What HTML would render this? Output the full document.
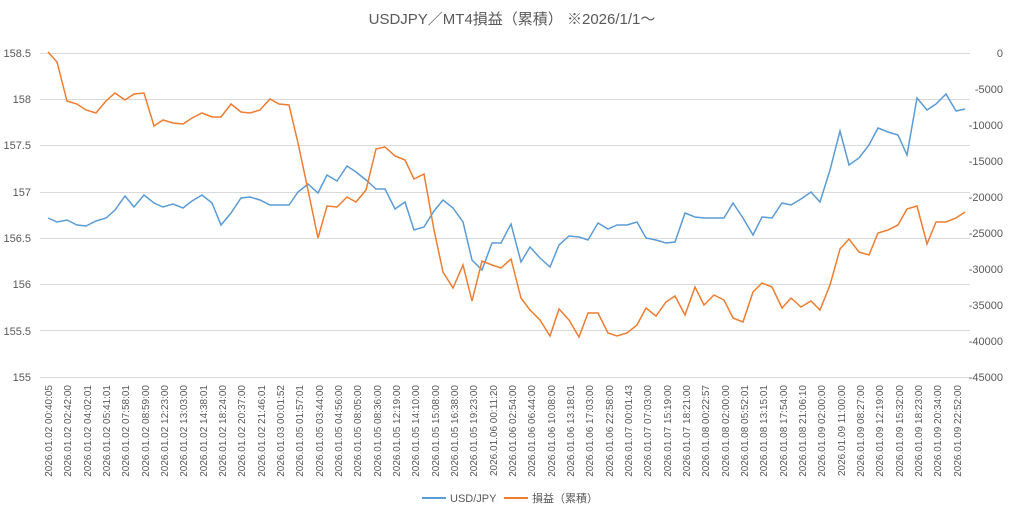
<!DOCTYPE html>
<html><head><meta charset="utf-8"><style>body{margin:0;background:#fff}svg{display:block}</style></head><body>
<svg width="1024" height="518" xmlns="http://www.w3.org/2000/svg" font-family="'Liberation Sans','Noto Sans CJK JP',sans-serif">
<rect width="1024" height="518" fill="#fff"/>
<text x="512" y="24" text-anchor="middle" font-size="15" fill="#595959">USDJPY／MT4損益（累積） ※2026/1/1～</text>
<g stroke="#d9d9d9" stroke-width="1">
<line x1="40" x2="970" y1="53.5" y2="53.5"/><line x1="40" x2="970" y1="99.5" y2="99.5"/><line x1="40" x2="970" y1="145.5" y2="145.5"/><line x1="40" x2="970" y1="192.5" y2="192.5"/><line x1="40" x2="970" y1="238.5" y2="238.5"/><line x1="40" x2="970" y1="284.5" y2="284.5"/><line x1="40" x2="970" y1="330.5" y2="330.5"/><line x1="40" x2="970" y1="377.5" y2="377.5"/>
</g>
<g font-size="11" fill="#595959" text-anchor="end">
<text x="31" y="57">158.5</text><text x="31" y="103">158</text><text x="31" y="149">157.5</text><text x="31" y="196">157</text><text x="31" y="242">156.5</text><text x="31" y="288">156</text><text x="31" y="335">155.5</text><text x="31" y="381">155</text>
</g>
<g font-size="11" fill="#595959" text-anchor="end">
<text x="1003" y="57">0</text><text x="1003" y="93">-5000</text><text x="1003" y="129">-10000</text><text x="1003" y="165">-15000</text><text x="1003" y="201">-20000</text><text x="1003" y="237">-25000</text><text x="1003" y="273">-30000</text><text x="1003" y="309">-35000</text><text x="1003" y="345">-40000</text><text x="1003" y="381">-45000</text>
</g>
<polyline fill="none" stroke="#5b9bd5" stroke-width="1.5" points="48,218 57,222 67,220 77,225 86,226 96,221 106,218 115,210 125,196 134,207 144,195 154,203 163,207 173,204 183,208 192,201 202,195 212,203 221,225 231,213 241,198 250,197 260,200 270,205 279,205 289,205 298,192 308,184 318,193 327,175 337,181 347,166 356,172 366,180 376,189 385,189 395,209 405,202 414,230 424,227 434,211 443,200 453,208 463,222 472,260 482,270 492,243 501,243 511,224 521,262 530,247 540,258 550,267 559,245 569,236 579,237 588,240 598,223 608,229 617,225 627,225 637,222 646,238 656,240 666,243 675,242 685,213 695,217 704,218 714,218 724,218 733,203 743,218 753,235 762,217 772,218 782,203 791,205 801,199 811,192 820,202 830,170 840,131 849,165 859,158 869,145 878,128 888,132 898,135 907,155 917,98 927,110 936,104 946,94 956,111 965,109"/>
<polyline fill="none" stroke="#ed7d31" stroke-width="1.5" points="48,52 57,62 67,101 77,104 86,110 96,113 106,101 115,93 125,100 134,94 144,93 154,126 163,120 173,123 183,124 192,118 202,113 212,117 221,117 231,104 241,112 250,113 260,110 270,99 279,104 289,105 298,143 308,190 318,238 327,206 337,207 347,197 356,202 366,190 376,149 385,147 395,156 405,160 414,179 424,174 434,230 443,272 453,288 463,265 472,301 482,261 492,265 501,268 511,259 521,298 530,310 540,320 550,336 559,309 569,320 579,337 588,313 598,313 608,333 617,336 627,333 637,325 646,308 656,316 666,302 675,296 685,315 695,287 704,305 714,295 724,300 733,318 743,322 753,292 762,283 772,287 782,308 791,298 801,307 811,301 820,310 830,285 840,249 849,239 859,252 869,255 878,233 888,230 898,225 907,209 917,206 927,244 936,222 946,222 956,218 965,212"/>
<line x1="422" x2="446" y1="498" y2="498" stroke="#5b9bd5" stroke-width="2"/>
<text x="450" y="502" font-size="11" fill="#595959">USD/JPY</text>
<line x1="504" x2="528" y1="498" y2="498" stroke="#ed7d31" stroke-width="2"/>
<text x="532" y="502" font-size="11" fill="#595959">損益（累積）</text>
<g font-size="10" fill="#595959" text-anchor="end">
<text transform="translate(52,385) rotate(-90)">2026.01.02 00:40:05</text>
<text transform="translate(71,385) rotate(-90)">2026.01.02 02:42:00</text>
<text transform="translate(91,385) rotate(-90)">2026.01.02 04:02:01</text>
<text transform="translate(110,385) rotate(-90)">2026.01.02 05:41:01</text>
<text transform="translate(129,385) rotate(-90)">2026.01.02 07:58:01</text>
<text transform="translate(149,385) rotate(-90)">2026.01.02 08:59:00</text>
<text transform="translate(168,385) rotate(-90)">2026.01.02 12:23:00</text>
<text transform="translate(187,385) rotate(-90)">2026.01.02 13:03:00</text>
<text transform="translate(207,385) rotate(-90)">2026.01.02 14:38:01</text>
<text transform="translate(226,385) rotate(-90)">2026.01.02 18:24:00</text>
<text transform="translate(245,385) rotate(-90)">2026.01.02 20:37:00</text>
<text transform="translate(265,385) rotate(-90)">2026.01.02 21:46:01</text>
<text transform="translate(284,385) rotate(-90)">2026.01.03 00:01:52</text>
<text transform="translate(303,385) rotate(-90)">2026.01.05 01:57:01</text>
<text transform="translate(323,385) rotate(-90)">2026.01.05 03:44:00</text>
<text transform="translate(342,385) rotate(-90)">2026.01.05 04:56:00</text>
<text transform="translate(361,385) rotate(-90)">2026.01.05 08:05:00</text>
<text transform="translate(381,385) rotate(-90)">2026.01.05 08:36:00</text>
<text transform="translate(400,385) rotate(-90)">2026.01.05 12:19:00</text>
<text transform="translate(419,385) rotate(-90)">2026.01.05 14:10:00</text>
<text transform="translate(439,385) rotate(-90)">2026.01.05 15:08:00</text>
<text transform="translate(458,385) rotate(-90)">2026.01.05 16:38:00</text>
<text transform="translate(477,385) rotate(-90)">2026.01.05 19:23:00</text>
<text transform="translate(497,385) rotate(-90)">2026.01.06 00:11:20</text>
<text transform="translate(516,385) rotate(-90)">2026.01.06 02:54:00</text>
<text transform="translate(535,385) rotate(-90)">2026.01.06 06:44:00</text>
<text transform="translate(555,385) rotate(-90)">2026.01.06 10:08:00</text>
<text transform="translate(574,385) rotate(-90)">2026.01.06 13:18:01</text>
<text transform="translate(593,385) rotate(-90)">2026.01.06 17:03:00</text>
<text transform="translate(613,385) rotate(-90)">2026.01.06 22:58:00</text>
<text transform="translate(632,385) rotate(-90)">2026.01.07 00:01:43</text>
<text transform="translate(651,385) rotate(-90)">2026.01.07 07:03:00</text>
<text transform="translate(671,385) rotate(-90)">2026.01.07 15:19:00</text>
<text transform="translate(690,385) rotate(-90)">2026.01.07 18:21:00</text>
<text transform="translate(709,385) rotate(-90)">2026.01.08 00:22:57</text>
<text transform="translate(729,385) rotate(-90)">2026.01.08 02:00:00</text>
<text transform="translate(748,385) rotate(-90)">2026.01.08 05:52:01</text>
<text transform="translate(767,385) rotate(-90)">2026.01.08 13:15:01</text>
<text transform="translate(787,385) rotate(-90)">2026.01.08 17:54:00</text>
<text transform="translate(806,385) rotate(-90)">2026.01.08 21:06:10</text>
<text transform="translate(825,385) rotate(-90)">2026.01.09 02:00:00</text>
<text transform="translate(845,385) rotate(-90)">2026.01.09 11:00:00</text>
<text transform="translate(864,385) rotate(-90)">2026.01.09 08:27:00</text>
<text transform="translate(883,385) rotate(-90)">2026.01.09 12:19:00</text>
<text transform="translate(903,385) rotate(-90)">2026.01.09 15:32:00</text>
<text transform="translate(922,385) rotate(-90)">2026.01.09 18:23:00</text>
<text transform="translate(941,385) rotate(-90)">2026.01.09 20:34:00</text>
<text transform="translate(961,385) rotate(-90)">2026.01.09 22:52:00</text>
</g>
</svg>
</body></html>
